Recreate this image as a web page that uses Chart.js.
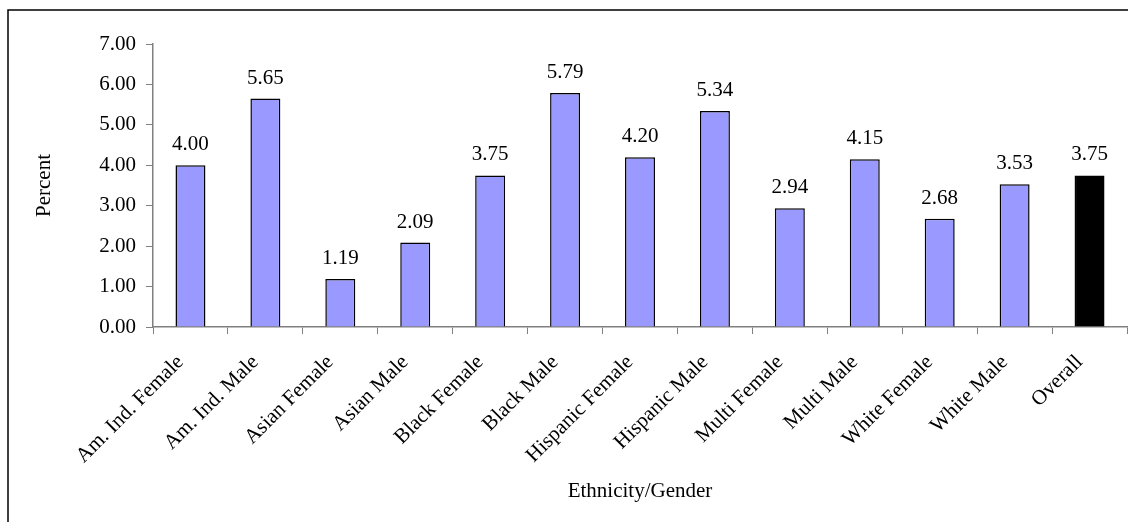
<!DOCTYPE html>
<html>
<head>
<meta charset="utf-8">
<title>Percent by Ethnicity/Gender</title>
<script src="https://cdn.jsdelivr.net/npm/chart.js@4.4.1/dist/chart.umd.min.js"></script>
<style>
    html, body { margin: 0; padding: 0; background: #fff; }
    #wrap { position: relative; width: 1128px; height: 522px; }
</style>
</head>
<body>
<div id="wrap"><canvas id="chart" width="1128" height="522"></canvas></div>
<script>
const categories = [
    'Am. Ind. Female', 'Am. Ind. Male', 'Asian Female', 'Asian Male',
    'Black Female', 'Black Male', 'Hispanic Female', 'Hispanic Male',
    'Multi Female', 'Multi Male', 'White Female', 'White Male', 'Overall'
];
const percentValues = [4.00, 5.65, 1.19, 2.09, 3.75, 5.79, 4.20, 5.34, 2.94, 4.15, 2.68, 3.53, 3.75];
const yTicks = [0, 1, 2, 3, 4, 5, 6, 7];

const SERIF = ['Liberation Serif', 'Times New Roman', 'serif'];
const FONT_SIZE = 21;
const barColors = categories.map(c => c === 'Overall' ? '#000000' : '#9999FF');

// value printed above each bar
const valueLabels = {
    id: 'valueLabels',
    afterDatasetsDraw(chart) {
        const ctx = chart.ctx;
        const meta = chart.getDatasetMeta(0);
        ctx.save();
        ctx.font = FONT_SIZE + 'px ' + SERIF.map(f => f.includes(' ') ? '"' + f + '"' : f).join(', ');
        ctx.fillStyle = '#000';
        ctx.textAlign = 'center';
        ctx.textBaseline = 'alphabetic';
        meta.data.forEach((bar, i) => {
            ctx.fillText(percentValues[i].toFixed(2), bar.x, bar.y - 15);
        });
        ctx.restore();
    }
};

// outer frame round the chart
const frame = {
    id: 'frame',
    afterDraw(chart) {
        const ctx = chart.ctx;
        ctx.save();
        ctx.strokeStyle = '#000';
        ctx.lineWidth = 1.5;
        ctx.strokeRect(8, 10, 1140, 540);
        ctx.restore();
    }
};

const context = document.getElementById('chart').getContext('2d');
new Chart(context, {
    type: 'bar',
    data: {
        labels: categories,
        datasets: [{
            label: 'Percent',
            data: percentValues,
            backgroundColor: barColors,
            borderColor: '#000000',
            borderWidth: 1.5,
            barPercentage: 0.4,
            categoryPercentage: 1.0
        }]
    },
    options: {
        responsive: false,
        animation: false,
        layout: { padding: { top: 44, right: 1, left: 0, bottom: 0 } },
        plugins: {
            legend: { display: false },
            tooltip: { enabled: false },
            title: { display: false }
        },
        scales: {
            x: {
                grid: { drawOnChartArea: false, drawTicks: true, tickLength: 7, color: '#808080', offset: true },
                border: { color: '#808080', width: 1.5 },
                ticks: {
                    maxRotation: 45,
                    minRotation: 45,
                    padding: 16,
                    labelOffset: -10,
                    color: '#000',
                    font: { family: SERIF, size: FONT_SIZE }
                },
                title: {
                    display: true,
                    text: 'Ethnicity/Gender',
                    color: '#000',
                    font: { family: SERIF, size: FONT_SIZE },
                    padding: { top: 0, bottom: 18 }
                },
                afterFit(scale) { scale.height = 195; }
            },
            y: {
                min: 0,
                max: 7,
                afterBuildTicks(scale) { scale.ticks = yTicks.map(v => ({ value: v })); },
                grid: { drawOnChartArea: false, drawTicks: true, tickLength: 7, color: '#808080' },
                border: { color: '#808080', width: 1.5 },
                ticks: {
                    padding: 10,
                    color: '#000',
                    font: { family: SERIF, size: FONT_SIZE },
                    callback: (value) => Number(value).toFixed(2)
                },
                title: {
                    display: true,
                    text: 'Percent',
                    color: '#000',
                    font: { family: SERIF, size: FONT_SIZE },
                    padding: { top: 32, bottom: 0 }
                },
                afterFit(scale) { scale.width = 153; }
            }
        }
    },
    plugins: [valueLabels, frame]
});
</script>
</body>
</html>
